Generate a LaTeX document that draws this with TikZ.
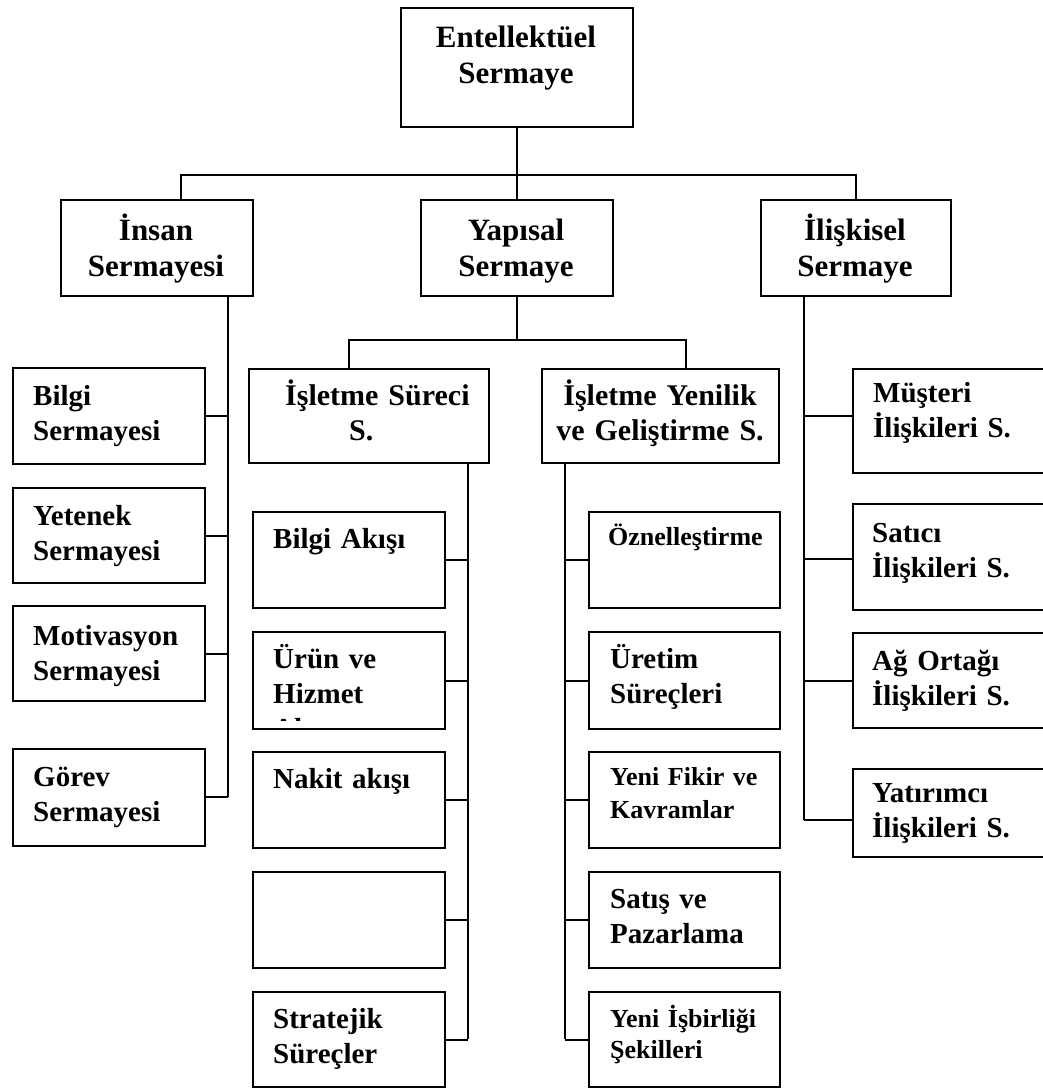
\documentclass[tikz,border=0pt]{standalone}
\usepackage{fontspec}
\setmainfont{Liberation Serif}
\begin{document}
\begin{tikzpicture}[x=1pt,y=-1pt,
  box/.style={draw=black, line width=2pt, inner sep=0pt, anchor=north west},
  link/.style={draw=black, line width=2pt},
  lbl/.style={inner sep=0pt, font=\bfseries\fontsize{29}{35}\selectfont,
              text width=300pt, align=left, anchor=base west},
  clbl/.style={lbl, align=center, anchor=base, text width=260pt},
  bigfont/.style={font=\bfseries\fontsize{31}{36}\selectfont},
  midfont/.style={font=\bfseries\fontsize{30}{35}\selectfont},
  small/.style={font=\bfseries\fontsize{26}{33}\selectfont},
]
\clip (0,0) rectangle (1043,1088);

% ---- boxes ----
\node[box, minimum width=232, minimum height=119] (ent) at (400,7) {};

\node[box, minimum width=192, minimum height=96] (insan) at (60,199) {};
\node[box, minimum width=192, minimum height=96] (yap)   at (420,199) {};
\node[box, minimum width=190, minimum height=96] (ilis)  at (760,199) {};

\node[box, minimum width=192, minimum height=96] (bilgiS)  at (12,367) {};
\node[box, minimum width=192, minimum height=95] (yetenek) at (12,487) {};
\node[box, minimum width=192, minimum height=95] (motiv)   at (12,605) {};
\node[box, minimum width=192, minimum height=97] (gorev)   at (12,748) {};

\node[box, minimum width=240, minimum height=94] (isl) at (248,368) {};
\node[box, minimum width=237, minimum height=94] (yen) at (541,368) {};

\node[box, minimum width=192, minimum height=96] (akis)  at (252,511) {};
\node[box, minimum width=192, minimum height=97] (urun)  at (252,631) {};
\node[box, minimum width=192, minimum height=96] (nakit) at (252,751) {};
\node[box, minimum width=192, minimum height=96] (bos)   at (252,871) {};
\node[box, minimum width=192, minimum height=95] (strat) at (252,991) {};

\node[box, minimum width=191, minimum height=96] (ozn)    at (588,511) {};
\node[box, minimum width=191, minimum height=97] (uretim) at (588,631) {};
\node[box, minimum width=191, minimum height=96] (fikir)  at (588,751) {};
\node[box, minimum width=191, minimum height=96] (satis)  at (588,871) {};
\node[box, minimum width=191, minimum height=95] (isbir)  at (588,991) {};

\node[box, minimum width=220, minimum height=104] (must)   at (852,368) {};
\node[box, minimum width=220, minimum height=106] (satici) at (852,503) {};
\node[box, minimum width=220, minimum height=95]  (ag)     at (852,632) {};
\node[box, minimum width=220, minimum height=88]  (yatir)  at (852,768) {};

% ---- labels ----
\node[clbl, bigfont] (entT)   at (516,47)  {Entellektüel\\Sermaye};
\node[clbl, bigfont] (insanT) at (156,240) {İnsan\\Sermayesi};
\node[clbl, bigfont] (yapT)   at (516,240) {Yapısal\\Sermaye};
\node[clbl, bigfont] (ilisT)  at (855,240) {İlişkisel\\Sermaye};

\node[lbl] (bilgiST)  at (33,405) {Bilgi\\Sermayesi};
\node[lbl] (yetenekT) at (33,525) {Yetenek\\Sermayesi};
\node[lbl] (motivT)   at (33,645) {Motivasyon\\Sermayesi};
\node[lbl] (gorevT)   at (33,786) {Görev\\Sermayesi};

\node[lbl, midfont]  (islT) at (285,405) {İşletme Süreci\\\hspace*{64pt}S.};
\node[clbl, midfont] (yenT) at (660,405) {İşletme Yenilik\\ve Geliştirme S.};

\node[lbl] (akisT) at (273,548) {Bilgi Akışı};
\begin{scope}
  \clip (252,631) rectangle (444,720);
  \node[lbl] (urunT) at (273,668) {Ürün ve\\Hizmet\\Akışı};
\end{scope}
\node[lbl] (nakitT) at (273,788) {Nakit akışı};
\node[lbl] (stratT) at (273,1028) {Stratejik\\Süreçler};

\node[lbl, small] (oznT)    at (608,545) {Öznelleştirme};
\node[lbl]        (uretimT) at (610,668) {Üretim\\Süreçleri};
\node[lbl, small] (fikirT)  at (610,785) {Yeni Fikir ve\\Kavramlar};
\node[lbl]        (satisT)  at (610,908) {Satış ve\\Pazarlama};
\node[lbl, small] (isbirT)  at (610,1027) {Yeni İşbirliği\\[-2pt]Şekilleri};

\node[lbl] (mustT)   at (873,402) {Müşteri\\İlişkileri S.};
\node[lbl] (saticiT) at (872,542) {Satıcı\\İlişkileri S.};
\node[lbl] (agT)     at (872,670) {Ağ Ortağı\\İlişkileri S.};
\node[lbl] (yatirT)  at (872,802) {Yatırımcı\\İlişkileri S.};

% ---- connectors ----
\coordinate (topBus) at (516,175);
\draw[link] (ent.south) -- (yap.north);
\draw[link] ([xshift=24pt]insan.north) |- (ilis.north |- topBus) -- (ilis.north);

% human capital branch
\coordinate (insEnd) at (228,797);
\draw[link] (insan.south -| insEnd) -- (insEnd);
\draw[link] (bilgiS.east)  -- (bilgiS.east -| insEnd);
\draw[link] (yetenek.east) -- (yetenek.east -| insEnd);
\draw[link] (motiv.east)   -- (motiv.east -| insEnd);
\draw[link] (gorev.east |- insEnd) -- (insEnd);

% structural capital branch
\coordinate (yapBus) at (516,340);
\draw[link] (yap.south) -- (yap.south |- yapBus);
\draw[link] ([xshift=-20pt]isl.north) |- ([xshift=25.5pt]yen.north |- yapBus)
            -- ([xshift=25.5pt]yen.north);

\coordinate (islEnd) at (468,1039);
\draw[link] (isl.south -| islEnd) -- (islEnd);
\draw[link] (akis.east)  -- (akis.east -| islEnd);
\draw[link] (urun.east)  -- (urun.east -| islEnd);
\draw[link] (nakit.east) -- (nakit.east -| islEnd);
\draw[link] (bos.east)   -- (bos.east -| islEnd);
\draw[link] (strat.east) -- (strat.east -| islEnd);

\coordinate (yenEnd) at (565,1039);
\draw[link] (yen.south -| yenEnd) -- (yenEnd);
\draw[link] (ozn.west)    -- (ozn.west -| yenEnd);
\draw[link] (uretim.west) -- (uretim.west -| yenEnd);
\draw[link] (fikir.west)  -- (fikir.west -| yenEnd);
\draw[link] (satis.west)  -- (satis.west -| yenEnd);
\draw[link] (isbir.west)  -- (isbir.west -| yenEnd);

% relational capital branch
\coordinate (ilisEnd) at (804,820);
\draw[link] (ilis.south -| ilisEnd) -- (ilisEnd);
\draw[link] ([yshift=5pt]must.west)    -- ([yshift=5pt]must.west -| ilisEnd);
\draw[link] ([yshift=-2pt]satici.west) -- ([yshift=-2pt]satici.west -| ilisEnd);
\draw[link] (ag.west) -- (ag.west -| ilisEnd);
\draw[link] (yatir.west |- ilisEnd) -- (ilisEnd);
\end{tikzpicture}
\end{document}
